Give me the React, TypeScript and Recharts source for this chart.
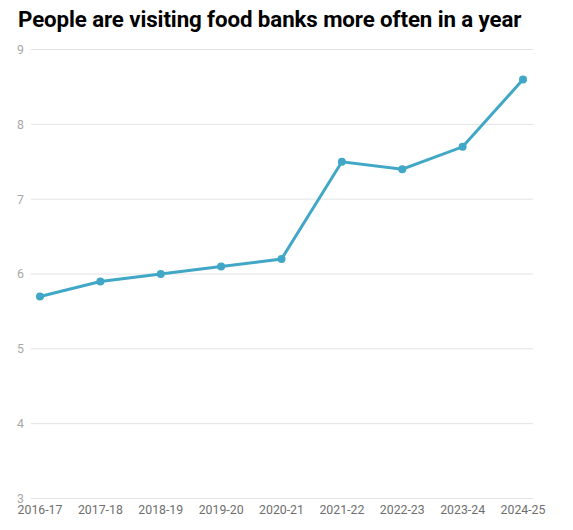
import React from "react";
import { LineChart, Line, XAxis, YAxis, CartesianGrid } from "recharts";

const years = ["2016-17", "2017-18", "2018-19", "2019-20", "2020-21", "2021-22", "2022-23", "2023-24", "2024-25"];
const visits = [5.7, 5.9, 6.0, 6.1, 6.2, 7.5, 7.4, 7.7, 8.6];
const yTicks = [3, 4, 5, 6, 7, 8, 9];

const data = years.map((y, i) => ({ year: y, visits: visits[i] }));

const COLOR = "#41a7c7";

export default function App() {
  return (
    <div style={{ position: "absolute", left: 0, top: 0, width: 573, height: 530, background: "#fff", fontFamily: "Roboto, sans-serif" }}>
      <div style={{ position: "absolute", left: 18, top: 6, fontSize: 22.3, fontWeight: 700, color: "#000", whiteSpace: "nowrap", letterSpacing: -0.1 }}>
        People are visiting food banks more often in a year
      </div>
      <LineChart width={573} height={530} data={data} margin={{ top: 49.5, right: 40, bottom: 0, left: 0 }}>
        <CartesianGrid vertical={false} stroke="#e3e3e3" />
        <XAxis
          dataKey="year"
          axisLine={false}
          tickLine={false}
          tickSize={0}
          tickMargin={7}
          height={31.5}
          padding={{ left: 9, right: 10 }}
          interval={0}
          tick={{ fill: "#6e6e6e", fontSize: 12.3, fontFamily: "Roboto" }}
        />
        <YAxis
          domain={[3, 9]}
          ticks={yTicks}
          axisLine={false}
          tickLine={false}
          tickSize={0}
          tickMargin={7}
          width={31}
          tick={{ fill: "#a8a8a8", fontSize: 12.3, fontFamily: "Roboto" }}
        />
        <Line
          type="linear"
          dataKey="visits"
          stroke={COLOR}
          strokeWidth={3}
          dot={{ r: 4, fill: COLOR, stroke: COLOR, strokeWidth: 0 }}
          activeDot={false}
          isAnimationActive={false}
        />
      </LineChart>
    </div>
  );
}
